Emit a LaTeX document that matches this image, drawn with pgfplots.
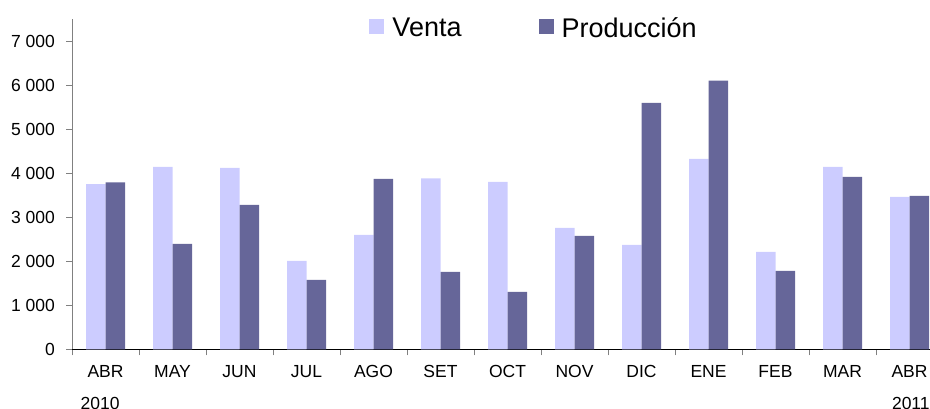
\documentclass[border=0pt]{standalone}
\usepackage{fontspec}
\setmainfont{Liberation Sans}
\usepackage{pgfplots}
\pgfplotsset{compat=1.18}
\definecolor{venta}{HTML}{CCCCFF}
\definecolor{prod}{HTML}{666699}
\begin{document}
\begin{tikzpicture}
\begin{axis}[
  at={(72bp,-349.3bp)}, anchor=south west,
  scale only axis, width=858bp, height=330.3bp,
  xmin=-0.5, xmax=12.306, ymin=0, ymax=7500,
  axis lines=left, axis line style={-, line width=1bp},
  x axis line style={black}, y axis line style={gray},
  ybar=0pt, bar width=19.5bp,
  ytick={0,1000,...,7000},
  yticklabels={0,1 000,2 000,3 000,4 000,5 000,6 000,7 000},
  xtick={-0.5,0.5,...,11.5}, xticklabels={},
  extra x ticks={0,1,...,12},
  extra x tick labels={ABR,MAY,JUN,JUL,AGO,SET,OCT,NOV,DIC,ENE,FEB,MAR,ABR},
  extra x tick style={major tick length=0pt},
  tick align=outside, major tick length=6bp,
  tick style={gray, line width=1bp},
  ticklabel style={font=\fontsize{17.5bp}{20bp}\selectfont, inner sep=0pt},
  yticklabel style={xshift=-11bp},
  xticklabel style={yshift=-15.5bp},
  clip=false,
  legend columns=2,
  legend style={draw=none, fill=none, at={(axis description cs:0.3465,0.973)}, anchor=west,
    inner sep=0pt, font=\fontsize{27bp}{30bp}\selectfont,
    nodes={inner xsep=3bp, inner ysep=0pt},
    /tikz/every odd column/.append style={column sep=5bp},
    /tikz/every even column/.append style={column sep=74bp}},
  legend image code/.code={\path[#1] (0bp,-6bp) rectangle (15bp,9bp);},
]
\addplot[fill=venta, draw=none] coordinates {
(0,3750) (1,4144) (2,4121) (3,2008) (4,2598) (5,3879) (6,3803)
(7,2758) (8,2371) (9,4326) (10,2212) (11,4144) (12,3462)};
\addplot[fill=prod, draw=none] coordinates {
(0,3788) (1,2394) (2,3280) (3,1576) (4,3871) (5,1758) (6,1303)
(7,2576) (8,5598) (9,6099) (10,1780) (11,3917) (12,3485)};
\legend{Venta,Producción}
\node[anchor=north, inner sep=0pt, font=\fontsize{17.5bp}{20bp}\selectfont] at (axis cs:-0.08,0) [yshift=-47.7bp] {2010};
\node[anchor=north, inner sep=0pt, font=\fontsize{17.5bp}{20bp}\selectfont] at (axis cs:12.02,0) [yshift=-47.7bp] {2011};
\end{axis}
\pgfresetboundingbox
\useasboundingbox (0bp,0bp) rectangle (930bp,-409bp);
\end{tikzpicture}
\end{document}
